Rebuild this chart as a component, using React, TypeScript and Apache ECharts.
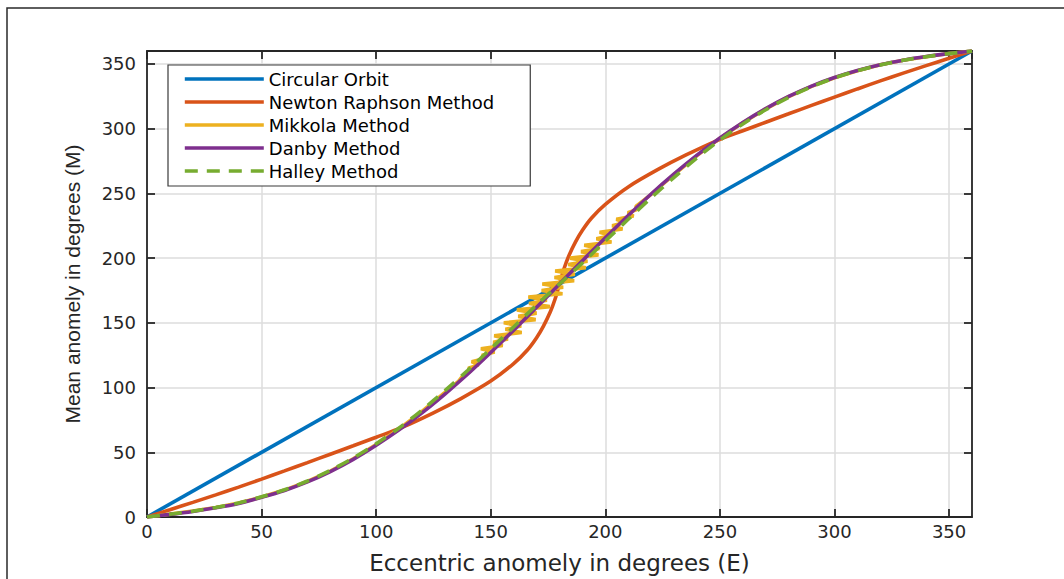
import React, { useEffect, useRef } from "react";
import * as echarts from "echarts";

const seriesNames = [
  "Circular Orbit",
  "Newton Raphson Method",
  "Mikkola Method",
  "Danby Method",
  "Halley Method",
];
const seriesColors = ["#0072BD", "#D95319", "#EDB120", "#7E2F8E", "#77AC30"];

const xTitle = "Eccentric anomely in degrees (E)";
const yTitle = "Mean anomely in degrees (M)";

const circularData = [
  [0, 0],
  [360, 360],
];

const newtonData = [
  [0, 0], [10, 5.6], [20, 11.3], [30, 17.1], [40, 23.1], [50, 29.3], [60, 35.6], [70, 42],
  [80, 48.5], [90, 55], [100, 61.6], [111, 69], [125, 80.5], [137, 91.5], [150, 105],
  [160, 118.5], [166, 129], [170, 138.5], [173, 147.5], [176, 158.5], [178, 168], [180, 180],
  [182, 192], [184, 201.5], [187, 212.5], [190, 221.5], [194, 231], [200, 241.5],
  [210, 255], [223, 268.5], [235, 279.5], [249, 291], [260, 298.4], [270, 305],
  [280, 311.5], [290, 318], [300, 324.4], [310, 330.7], [320, 336.9], [330, 342.9],
  [340, 348.7], [350, 354.4], [360, 360],
];

const danbyData = [
  [0, 0], [10, 2], [20, 4.3], [30, 7.1], [40, 10.5], [50, 15.2], [60, 20.5], [70, 27.1],
  [80, 35.1], [90, 44.5], [100, 55.4], [110, 67.3], [120, 80.5], [130, 95], [140, 110.5],
  [150, 127.1], [160, 144.3], [170, 162], [180, 180], [190, 198], [200, 215.7], [210, 232.9],
  [220, 249.5], [230, 265], [240, 279.5], [250, 292.8], [260, 304.8], [270, 315.5],
  [280, 324.9], [290, 332.9], [300, 339.5], [310, 344.9], [320, 349.4], [330, 352.9],
  [340, 355.7], [350, 358], [360, 360],
];

const halleyData = [
  [0, 0], [10, 2.1], [20, 4.5], [30, 7.4], [40, 10.9], [50, 15.6], [60, 21], [70, 27.8],
  [80, 36], [90, 45.6], [100, 56.6], [110, 68.8], [120, 82.6], [130, 97.6], [140, 113.4],
  [150, 130], [160, 146.8], [170, 163.8], [180, 180], [190, 196.2], [200, 213.2],
  [210, 230], [220, 246.6], [230, 262.4], [240, 277.4], [250, 291.2], [260, 303.6],
  [270, 314.6], [280, 324.2], [290, 332.4], [300, 339.2], [310, 344.7], [320, 349.2],
  [330, 352.8], [340, 355.6], [350, 358], [360, 360],
];

const mikkolaData = [
  [0, 0], [10, 2.2], [20, 4.6], [30, 7.4], [40, 10.8], [50, 15.4], [60, 20.8], [70, 27.5],
  [80, 35.5], [90, 45], [100, 56], [110, 68], [120, 81.6], [130, 96.2], [136, 105],
  [138.2, 110], [141.2, 112.5], [140.2, 115], [144.7, 117.5], [141.7, 120], [147.2, 122.5],
  [146.2, 125], [151.7, 127.5], [145.7, 130], [155.2, 132.5], [151.1, 135], [157.5, 137.5],
  [151.5, 140], [163.5, 142.5], [156.4, 145], [163.3, 147.5], [155.7, 150], [169.6, 152.5],
  [162, 155], [170, 157.5], [161.4, 160], [175.8, 162.5], [166.7, 165], [174.5, 167.5],
  [166.4, 170], [181.3, 172.5], [172.2, 175], [181.6, 177.5], [172.5, 180], [186.4, 182.5],
  [177.8, 185], [186.7, 187.5], [178.1, 190], [191.5, 192.5], [183.8, 195], [192.2, 197.5],
  [184.6, 200], [197, 202.5], [189.4, 205], [197.4, 207.5], [190.8, 210], [202.7, 212.5],
  [196.1, 215], [202.5, 217.5], [197.5, 220], [207.5, 222.5], [203, 225], [208.4, 227.5],
  [204.8, 230], [212.3, 232.5], [209.8, 235], [213.8, 237.5], [213.3, 240], [220, 249.2],
  [230, 264.6], [240, 279.2], [250, 292.6], [260, 304.6], [270, 315.3], [280, 324.7],
  [290, 332.7], [300, 339.3], [310, 344.8], [320, 349.3], [330, 352.8], [340, 355.6],
  [350, 358], [360, 360],
];

const allData = [circularData, newtonData, mikkolaData, danbyData, halleyData];

const axisColor = "#262626";
const gridColor = "#dcdcdc";

export default function App() {
  const ref = useRef<HTMLDivElement>(null);

  useEffect(() => {
    if (!ref.current) return;
    const chart = echarts.init(ref.current, undefined, { renderer: "svg" });

    const baseAxis = {
      type: "value" as const,
      min: 0,
      max: 360,
      interval: 50,
      axisLine: { show: true, onZero: false, lineStyle: { color: axisColor, width: 1.8 } },
      axisTick: { show: true, inside: true, length: 8, lineStyle: { color: axisColor, width: 1.8 } },
    };

    const series = seriesNames.map((name, i) => ({
      name,
      type: "line" as const,
      data: allData[i],
      symbol: "none",
      showSymbol: false,
      smooth: i === 2 ? false : 0.3,
      xAxisIndex: 0,
      yAxisIndex: 0,
      lineStyle: {
        color: seriesColors[i],
        width: 3.6,
        type: i === 4 ? [13, 9] : "solid",
        cap: "butt",
      },
      itemStyle: { color: seriesColors[i] },
      z: 2 + i,
    }));

    chart.setOption({
      animation: false,
      backgroundColor: "#ffffff",
      grid: { left: 147, right: 92, top: 51, bottom: 59, containLabel: false },
      graphic: [
        {
          type: "rect",
          shape: { x: 7, y: 8, width: 1100, height: 700 },
          style: { fill: "none", stroke: "#2a2a2a", lineWidth: 1.5 },
          silent: true,
          z: -1,
        },
      ],
      legend: {
        orient: "vertical",
        left: 168,
        top: 65,
        itemWidth: 79,
        itemHeight: 14,
        itemGap: 5,
        padding: [5, 36, 6, 15],
        backgroundColor: "#ffffff",
        borderColor: "#3a3a3a",
        borderWidth: 1.2,
        borderRadius: 0,
        data: seriesNames,
        itemStyle: { opacity: 0, borderWidth: 0 },
        lineStyle: { width: 3.6 },
        textStyle: {
          fontFamily: "DejaVu Sans",
          fontSize: 18,
          lineHeight: 16,
          color: "#000000",
        },
      },
      xAxis: [
        {
          ...baseAxis,
          position: "bottom",
          name: xTitle,
          nameLocation: "middle",
          nameGap: 34,
          nameTextStyle: { fontFamily: "DejaVu Sans", fontSize: 23, color: axisColor },
          axisLabel: {
            show: true,
            margin: 5,
            showMaxLabel: false,
            fontFamily: "DejaVu Sans",
            fontSize: 18,
            color: axisColor,
          },
          splitLine: { show: true, lineStyle: { color: gridColor, width: 1.5 } },
        },
        {
          ...baseAxis,
          position: "top",
          axisLabel: { show: false },
          splitLine: { show: false },
        },
      ],
      yAxis: [
        {
          ...baseAxis,
          position: "left",
          name: yTitle,
          nameLocation: "middle",
          nameGap: 64,
          nameTextStyle: { fontFamily: "Liberation Sans", fontSize: 21, color: axisColor },
          axisLabel: {
            show: true,
            margin: 11,
            showMaxLabel: false,
            fontFamily: "DejaVu Sans",
            fontSize: 18,
            color: axisColor,
          },
          splitLine: { show: true, lineStyle: { color: gridColor, width: 1.5 } },
        },
        {
          ...baseAxis,
          position: "right",
          axisLabel: { show: false },
          splitLine: { show: false },
        },
      ],
      series,
    });

    return () => {
      chart.dispose();
    };
  }, []);

  return (
    <div
      ref={ref}
      style={{ position: "absolute", left: 0, top: 0, width: 1064, height: 579, background: "#fff" }}
    />
  );
}
